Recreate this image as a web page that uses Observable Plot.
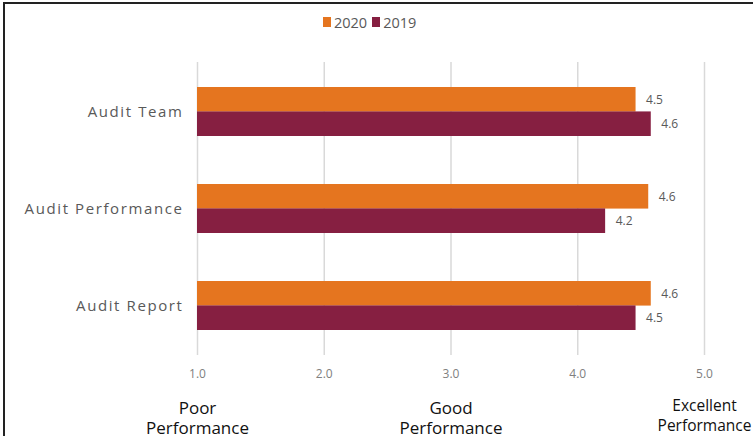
<!DOCTYPE html>
<html>
<head>
<meta charset="utf-8">
<script src="https://cdn.jsdelivr.net/npm/d3@7"></script>
<script src="https://cdn.jsdelivr.net/npm/@observablehq/plot@0.6"></script>
<style>
  html, body { margin: 0; padding: 0; background: #fff; }
  #wrap { position: relative; width: 753px; height: 436px; overflow: hidden; background: #fff; font-family: "Open Sans", sans-serif; }
  #frame { position: absolute; left: 3px; top: 2px; width: 760px; height: 440px; border-left: 2px solid #222; border-top: 2px solid #222; box-sizing: border-box; pointer-events: none; }
  #legend { position: absolute; left: 323px; top: 0; height: 44px; display: flex; align-items: center; gap: 5px; font-family: "Open Sans", sans-serif; font-size: 14.5px; color: #595959; }
  #legend .item { display: flex; align-items: center; gap: 3px; }
  #legend .sw { width: 8px; height: 10px; display: inline-block; }
  #chart { position: absolute; left: 0; top: 44px; }
  #chart g[aria-label="y-axis tick label"] text { letter-spacing: 1.6px; }
  #chart g[aria-label="scale-label"] text { letter-spacing: 0.5px; }
</style>
</head>
<body>
<div id="wrap">
  <div id="legend"></div>
  <div id="chart"></div>
  <div id="frame"></div>
</div>
<script>
const categories = ["Audit Team", "Audit Performance", "Audit Report"];
const years = ["2020", "2019"];
const scores2020 = [4.46, 4.56, 4.58];
const scores2019 = [4.58, 4.22, 4.46];
const xTicks = [1, 2, 3, 4, 5];
const scalePositions = [1, 3, 5];
const scaleLabels = ["Poor\nPerformance", "Good\nPerformance", "Excellent\nPerformance"];
const colors = ["#E5751F", "#861F41"];

const rows2020 = categories.map((c, i) => ({category: c, year: "2020", value: scores2020[i]}));
const rows2019 = categories.map((c, i) => ({category: c, year: "2019", value: scores2019[i]}));
const scaleRows = scalePositions.map((x, i) => ({x, label: scaleLabels[i]}));

// legend
const legend = document.getElementById("legend");
years.forEach((y, i) => {
  const item = document.createElement("span");
  item.className = "item";
  const sw = document.createElement("span");
  sw.className = "sw";
  sw.style.background = colors[i];
  item.appendChild(sw);
  item.appendChild(document.createTextNode(y));
  legend.appendChild(item);
});

const W = 753, H = 392, mTop = 18, mBottom = 81;
const fmt = d3.format(".1f");
const bandwidth = ((H - mTop - mBottom) / (categories.length - 0.5 + 0.5)) * 0.5;
const half = bandwidth / 2;

const chart = Plot.plot({
  width: W,
  height: H,
  marginTop: mTop,
  marginBottom: mBottom,
  marginLeft: 197,
  marginRight: 49,
  style: {fontFamily: "Open Sans, sans-serif", background: "transparent", overflow: "visible"},
  x: {domain: [1, 5], ticks: xTicks, tickFormat: fmt, label: null},
  y: {domain: categories, paddingInner: 0.5, paddingOuter: 0.25, label: null},
  marks: [
    Plot.ruleX(xTicks, {stroke: "#d9d9d9", strokeWidth: 1.5}),
    Plot.barX(rows2020, {y: "category", x1: 1, x2: "value", fill: colors[0], insetBottom: half}),
    Plot.barX(rows2019, {y: "category", x1: 1, x2: "value", fill: colors[1], insetTop: half}),
    Plot.text(rows2020, {y: "category", x: "value", text: d => fmt(d.value), dx: 10, dy: -half / 2, textAnchor: "start", fill: "#595959", fontSize: 12}),
    Plot.text(rows2019, {y: "category", x: "value", text: d => fmt(d.value), dx: 10, dy: half / 2, textAnchor: "start", fill: "#595959", fontSize: 12}),
    Plot.axisX({ticks: xTicks, tickFormat: fmt, tickSize: 0, tickPadding: 14, fontSize: 12, color: "#808080", label: null}),
    Plot.axisY({tickSize: 0, tickPadding: 14, fontSize: 15, color: "#595959", label: null}),
    Plot.text(scaleRows.filter(d => d.x !== 5), {x: "x", text: "label", frameAnchor: "bottom", lineAnchor: "top", dy: 45, fontSize: 17, fill: "#111", lineHeight: 1.15, ariaLabel: "scale-label"}),
    Plot.text(scaleRows.filter(d => d.x === 5), {x: "x", text: "label", frameAnchor: "bottom", lineAnchor: "top", dy: 41, fontSize: 15.5, fill: "#111", lineHeight: 1.3, ariaLabel: "scale-label"})
  ]
});
document.getElementById("chart").appendChild(chart);
</script>
</body>
</html>
